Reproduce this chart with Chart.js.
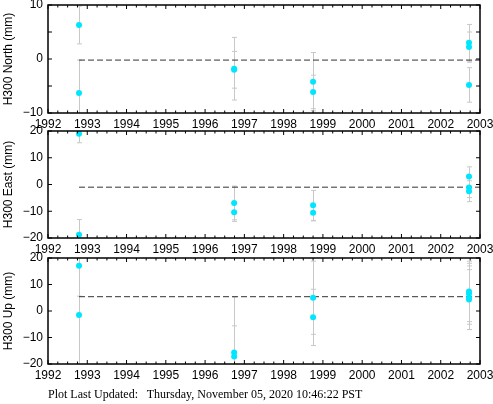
<!DOCTYPE html>
<html>
<head>
<meta charset="utf-8">
<script src="https://cdn.jsdelivr.net/npm/chart.js@4"></script>
<style>
  body { margin: 0; background: #fff; width: 493px; height: 404px; position: relative; overflow: hidden; }
  canvas { position: absolute; left: 0; }
  #foot { position: absolute; left: 48px; top: 387px; font: 12px "Liberation Serif"; white-space: pre; color: #000; }
</style>
</head>
<body>
<canvas id="north" width="493" height="131" style="top:0"></canvas>
<canvas id="east" width="493" height="131" style="top:125px"></canvas>
<canvas id="up" width="493" height="131" style="top:251px"></canvas>
<div id="foot">Plot Last Updated:   Thursday, November 05, 2020 10:46:22 PST</div>
<script>
// Epocas y valores (mm)
const northEpochs = [1992.79, 1992.79, 1996.74, 1996.74, 1998.75, 1998.75, 2002.72, 2002.72, 2002.72];
const northValues = [6.3, -6.3, -1.8, -2.0, -4.2, -6.1, 3.0, 2.2, -4.8];
const northErrors = [3.5, 6.1, 5.8, 3.4, 5.4, 3.1, 3.4, 2.8, 3.2];
const northMean = -0.2;

const eastEpochs = [1992.79, 1992.79, 1996.74, 1996.74, 1998.75, 1998.75, 2002.72, 2002.72, 2002.72];
const eastValues = [19.0, -18.8, -6.9, -10.4, -7.8, -10.6, 3.0, -1.1, -2.5];
const eastErrors = [3.4, 5.7, 6.3, 3.4, 5.6, 3.0, 3.6, 3.8, 3.9];
const eastMean = -1.0;

const upEpochs = [1992.79, 1992.79, 1996.74, 1996.74, 1998.75, 1998.75, 2002.72, 2002.72, 2002.72, 2002.72];
const upValues = [17.1, -1.5, -15.7, -17.2, 5.0, -2.4, 7.4, 6.5, 5.0, 4.3];
const upErrors = [11.5, 25.0, 10.1, 22.5, 13.8, 10.6, 11.4, 11.5, 12.0, 11.3];
const upMean = 5.4;

const yearStart = 1992;
const yearEnd = 2003;

Chart.defaults.font.family = 'Liberation Sans';
Chart.defaults.font.size = 12;
Chart.defaults.color = '#000';

// barras de error, marco y marcas hacia adentro
const marco = {
    id: 'marco',
    beforeDatasetsDraw(chart) {
        const { ctx, chartArea: a, scales: { x, y } } = chart;
        const ds = chart.data.datasets[0];
        ctx.save();
        ctx.beginPath();
        ctx.rect(a.left, a.top, a.right - a.left, a.bottom - a.top);
        ctx.clip();
        ctx.strokeStyle = '#c8c8c8';
        ctx.lineWidth = 1;
        ds.data.forEach((p, i) => {
            const px = Math.round(x.getPixelForValue(p.x)) + 0.5;
            const top = y.getPixelForValue(p.y + ds.errors[i]);
            const bot = y.getPixelForValue(p.y - ds.errors[i]);
            ctx.beginPath();
            ctx.moveTo(px, top); ctx.lineTo(px, bot);
            ctx.moveTo(px - 2.5, top); ctx.lineTo(px + 2.5, top);
            ctx.moveTo(px - 2.5, bot); ctx.lineTo(px + 2.5, bot);
            ctx.stroke();
        });
        ctx.restore();
    },
    afterDraw(chart) {
        const { ctx, chartArea: a, scales: { x, y } } = chart;
        ctx.save();
        ctx.strokeStyle = '#000';
        ctx.lineWidth = 1;
        ctx.beginPath();
        x.ticks.forEach(t => {
            const px = x.getPixelForValue(t.value);
            const len = Number.isInteger(t.value) ? 4 : 2.5;
            ctx.moveTo(px, a.bottom); ctx.lineTo(px, a.bottom - len);
            ctx.moveTo(px, a.top); ctx.lineTo(px, a.top + len);
        });
        y.ticks.forEach(t => {
            const py = y.getPixelForValue(t.value);
            ctx.moveTo(a.left, py); ctx.lineTo(a.left + 4, py);
            ctx.moveTo(a.right, py); ctx.lineTo(a.right - 4, py);
        });
        ctx.stroke();
        ctx.lineWidth = 1.5;
        ctx.strokeRect(a.left, a.top, a.right - a.left, a.bottom - a.top);
        ctx.restore();
    }
};

function panel(id, epochs, values, errors, mean, yMin, yMax, label, padTop) {
    return new Chart(document.getElementById(id), {
        type: 'scatter',
        data: {
            datasets: [
                {
                    data: epochs.map((e, i) => ({ x: e, y: values[i] })),
                    errors: errors,
                    backgroundColor: '#00e6ff',
                    borderWidth: 0,
                    pointRadius: 3
                },
                {
                    type: 'line',
                    data: [{ x: epochs[0], y: mean }, { x: yearEnd, y: mean }],
                    borderColor: '#333',
                    borderWidth: 1,
                    borderDash: [6, 3],
                    pointRadius: 0
                }
            ]
        },
        options: {
            responsive: false,
            animation: false,
            layout: { padding: { top: padTop, right: 13, left: 0, bottom: 0 } },
            plugins: { legend: { display: false }, tooltip: { enabled: false } },
            scales: {
                x: {
                    type: 'linear',
                    min: yearStart,
                    max: yearEnd,
                    grid: { display: false, drawTicks: false, tickLength: 0 },
                    border: { display: false },
                    afterFit: s => { s.height = 18; s.paddingLeft = 0; s.paddingRight = 0; },
                    ticks: {
                        stepSize: 0.25,
                        maxTicksLimit: 100,
                        autoSkip: false,
                        maxRotation: 0,
                        padding: 4,
                        callback: v => Number.isInteger(v) ? String(v) : ''
                    }
                },
                y: {
                    min: yMin,
                    max: yMax,
                    grid: { display: false, drawTicks: false, tickLength: 0 },
                    border: { display: false },
                    afterFit: s => { s.width = 48; s.paddingTop = 0; s.paddingBottom = 0; },
                    title: { display: true, text: label, padding: { top: 1, bottom: 0 } },
                    ticks: {
                        stepSize: 5,
                        padding: 5,
                        callback: v => v % 10 === 0 ? String(v).replace('-', '\u2212') : ''
                    }
                }
            }
        },
        plugins: [marco]
    });
}

panel('north', northEpochs, northValues, northErrors, northMean, -10, 10, 'H300 North (mm)', 5);
panel('east', eastEpochs, eastValues, eastErrors, eastMean, -20, 20, 'H300 East (mm)', 6);
panel('up', upEpochs, upValues, upErrors, upMean, -20, 20, 'H300 Up (mm)', 7);
</script>
</body>
</html>
